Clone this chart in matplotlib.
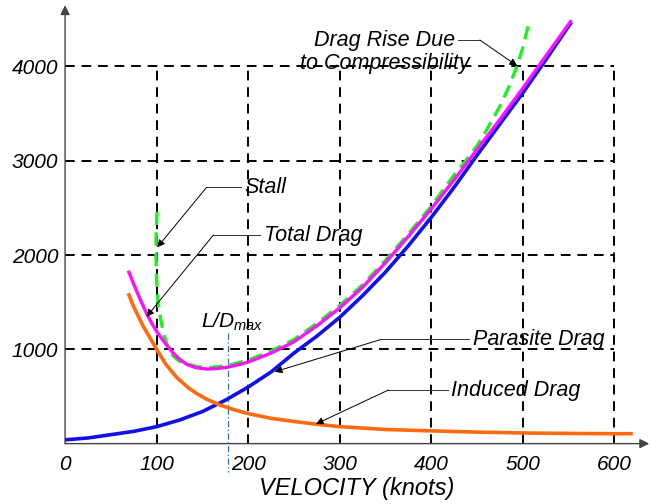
import matplotlib.pyplot as plt

plt.rcParams['font.family'] = ['Liberation Sans', 'DejaVu Sans']
plt.rcParams['font.style'] = 'italic'
plt.rcParams['mathtext.fontset'] = 'custom'
plt.rcParams['mathtext.it'] = 'Liberation Sans:italic'
plt.rcParams['mathtext.rm'] = 'Liberation Sans:italic'

# parasite drag (blue)
par_v = [0, 25, 50, 75, 100, 125, 150, 175, 200, 225, 250, 275, 300, 325,
         350, 375, 400, 425, 450, 475, 500, 525, 553]
par_d = [40, 60, 95, 130, 180, 250, 340, 460, 600, 760, 960, 1140, 1340, 1570,
         1820, 2100, 2400, 2720, 3060, 3390, 3720, 4070, 4470]

# induced drag (orange)
ind_v = [69, 75, 85, 100, 110, 122, 135, 144, 155, 169, 185, 200, 225, 250,
         275, 300, 350, 400, 450, 500, 550, 600, 620]
ind_d = [1594, 1450, 1250, 1000, 842, 700, 589, 529, 469, 410, 358, 318, 268, 235,
         205, 180, 150, 135, 122, 113, 108, 105, 105]

# total drag (magenta)
tot_v = [69, 75, 82, 89, 95, 100, 108, 118, 125, 133, 143, 155, 165, 176, 188,
         200, 225, 250, 275, 300, 325, 350, 375, 400, 425, 450, 475, 500, 525, 553]
tot_d = [1834, 1690, 1530, 1380, 1270, 1190, 1080, 960, 895, 840, 805, 791, 795, 809, 833,
         865, 960, 1080, 1250, 1440, 1660, 1920, 2200, 2490, 2800, 3120, 3440, 3770, 4110, 4490]

# stall / compressibility limit (green dashed)
lim_v = [100.5, 99.5, 99.3, 99.7, 100.5, 101.5, 103, 105, 108, 113, 118, 124, 133, 145,
         155, 176, 200, 225, 250, 275, 300, 325, 350, 375, 400, 425, 440, 450, 460,
         475, 485, 493, 500, 507]
lim_d = [2460, 2250, 2000, 1800, 1650, 1500, 1400, 1290, 1150, 1000, 930, 880, 845, 815,
         805, 825, 885, 982, 1105, 1275, 1465, 1685, 1945, 2225, 2520, 2850, 3030, 3160, 3320,
         3580, 3790, 3990, 4200, 4480]

xticks = [0, 100, 200, 300, 400, 500, 600]
yticks = [1000, 2000, 3000, 4000]
ld_max = 178

fig = plt.figure(figsize=(6.52, 5.04), dpi=100)
ax = fig.add_axes([0.0998, 0.1198, 0.896, 0.870])
ax.set_xlim(0, 638)
ax.set_ylim(0, 4650)
for s in ax.spines.values():
    s.set_visible(False)

# axes with arrows
ax.annotate('', xy=(0, 4650), xytext=(0, 0), annotation_clip=False,
            arrowprops=dict(arrowstyle='-|>', color='#444444', lw=1.0,
                            mutation_scale=14, shrinkA=0, shrinkB=0))
ax.annotate('', xy=(638, 0), xytext=(0, 0), annotation_clip=False,
            arrowprops=dict(arrowstyle='-|>', color='#444444', lw=1.0,
                            mutation_scale=14, shrinkA=0, shrinkB=0))

# dashed grid
dash = (0, (5, 3.5))
for y in yticks:
    ax.plot([0, 600], [y, y], color='black', lw=1.4, ls=dash, zorder=1)
for x in xticks[1:]:
    ax.plot([x, x], [0, 4000], color='black', lw=1.4, ls=dash, zorder=1)

ax.plot(par_v, par_d, color='#1010ee', lw=2.6, zorder=3, solid_capstyle='butt')
ax.plot(ind_v, ind_d, color='#ff6a10', lw=2.6, zorder=3, solid_capstyle='butt')
ax.plot(lim_v, lim_d, color='#22ee22', lw=2.4, ls=(0, (4, 2.2)), zorder=4)
ax.plot(tot_v, tot_d, color='#ff10ff', lw=2.4, zorder=5, solid_capstyle='butt')

# L/D max
ax.plot([ld_max, ld_max], [1170, -300], color='#3a6ea0', lw=0.9,
        ls=(0, (5, 2, 1, 2)), zorder=2, clip_on=False)
ax.text(148, 1230, r'$L/D_{max}$', fontsize=15)

ax.set_xticks(xticks)
ax.set_yticks(yticks)
ax.tick_params(length=0, labelsize=15)
ax.tick_params(axis='x', pad=8)
ax.tick_params(axis='y', pad=5)
ax.set_xlabel('VELOCITY (knots)', fontsize=17, labelpad=2)

# annotations: text, horizontal leader, angled arrow
notes = [
    ('Stall', (196, 2718), (154.6, 2718), (100.7, 2082)),
    ('Total Drag', (217, 2212), (162, 2212), (89, 1346)),
    ('Parasite Drag', (445, 1106), (345.6, 1106), (229, 762)),
    ('Induced Drag', (422, 568), (353, 568), (274, 208)),
]
akw = dict(arrowstyle='-|>', color='black', lw=0.7, mutation_scale=11,
           shrinkA=0, shrinkB=0)
for label, tpos, corner, tip in notes:
    ax.text(tpos[0], tpos[1], label, fontsize=15.5, ha='left', va='center', zorder=6)
    ax.plot([tpos[0] - 4, corner[0]], [tpos[1], tpos[1]], color='#333333', lw=0.7, zorder=6)
    ax.annotate('', xy=tip, xytext=corner, arrowprops=akw, zorder=6)

ax.text(349, 4150, 'Drag Rise Due\nto Compressibility', fontsize=15.5,
        ha='center', va='center', linespacing=1.1, zorder=6)
ax.plot([429.5, 453], [4280, 4280], color='#333333', lw=0.7, zorder=6)
ax.annotate('', xy=(493.7, 4007), xytext=(453, 4280), arrowprops=akw, zorder=6)

fig.savefig('out.png', dpi=100)
